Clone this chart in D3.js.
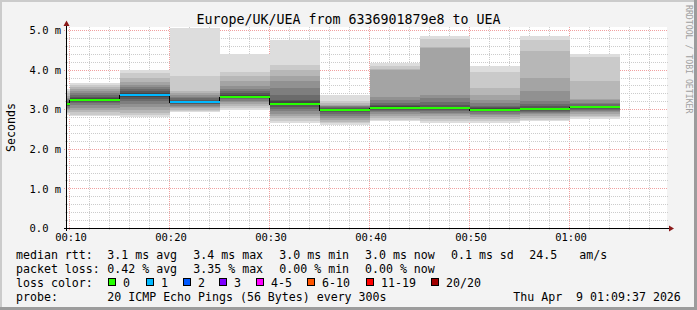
<!DOCTYPE html>
<html><head><meta charset="utf-8">
<script src="https://cdn.jsdelivr.net/npm/d3@7"></script>
<style>
body{margin:0;background:#f3f3f3}
svg{display:block}
text{font-family:"DejaVu Sans Mono",monospace;white-space:pre}
</style>
</head><body>
<svg id="c" width="697" height="310"></svg>
<script>
// ---------- data ----------
const segmentStarts = ["00:05","00:10","00:15","00:20","00:25","00:30","00:35","00:40","00:45","00:50","00:55","01:00"];
const segmentEnd = "01:05";
const medianRtt = [3.12, 3.24, 3.37, 3.17, 3.32, 3.14, 2.99, 3.03, 3.02, 2.99, 3.00, 3.05];
const lostPings = [0, 0, 1, 1, 0, 0, 0, 0, 0, 0, 0, 0];
const pings = [
  [2.85,2.90,2.94,2.98,3.01,3.04,3.07,3.09,3.11,3.12,3.13,3.15,3.18,3.21,3.25,3.29,3.34,3.40,3.46,3.52],
  [2.82,2.86,2.92,2.98,3.04,3.10,3.15,3.19,3.22,3.24,3.26,3.29,3.32,3.36,3.40,3.45,3.51,3.56,3.62,3.66],
  [2.80,2.85,2.91,2.98,3.06,3.13,3.20,3.26,3.31,3.35,3.39,3.42,3.45,3.50,3.56,3.62,3.68,3.79,3.91,3.98],
  [2.92,2.95,2.98,3.02,3.06,3.09,3.12,3.14,3.16,3.17,3.19,3.21,3.24,3.28,3.32,3.36,3.40,3.45,3.83,5.05],
  [2.99,3.03,3.07,3.12,3.17,3.21,3.25,3.28,3.30,3.31,3.33,3.36,3.40,3.45,3.51,3.58,3.70,3.83,3.95,4.40],
  [2.66,2.71,2.77,2.83,2.89,2.95,3.01,3.06,3.10,3.13,3.16,3.20,3.24,3.37,3.53,3.70,3.83,4.00,4.12,4.74],
  [2.60,2.64,2.68,2.72,2.77,2.82,2.87,2.92,2.95,2.98,3.00,3.01,3.03,3.05,3.07,3.09,3.11,3.15,3.20,3.37],
  [2.69,2.74,2.79,2.84,2.89,2.93,2.96,2.99,3.01,3.02,3.04,3.07,3.11,3.16,3.24,3.30,4.00,4.02,4.10,4.17],
  [2.64,2.70,2.76,2.82,2.87,2.91,2.95,2.98,3.00,3.01,3.03,3.06,3.11,3.18,3.28,3.35,4.55,4.56,4.77,4.86],
  [2.66,2.71,2.76,2.81,2.85,2.89,2.92,2.95,2.97,2.98,3.00,3.02,3.05,3.09,3.15,3.24,3.37,3.53,3.93,4.10],
  [2.69,2.74,2.79,2.84,2.88,2.91,2.94,2.96,2.98,2.99,3.01,3.03,3.07,3.12,3.20,3.45,3.79,4.46,4.75,4.84],
  [2.75,2.80,2.84,2.88,2.92,2.95,2.98,3.00,3.02,3.04,3.06,3.07,3.09,3.12,3.16,3.24,3.26,3.70,4.32,4.40]
];
const timeTicks = ["00:10","00:20","00:30","00:40","00:50","01:00"];
const valueTicks = [0, 1, 2, 3, 4, 5];
const valueTickLabels = ["0.0", "1.0 m", "2.0 m", "3.0 m", "4.0 m", "5.0 m"];
const lossLabels = ["0","1","2","3","4-5","6-10","11-19","20/20"];
const lossColors = ["#26ff00","#00b8ff","#0059ff","#7e00ff","#ff00ff","#ff5500","#ff0000","#a10000"];
const rttStats = ["3.1 ms avg","3.4 ms max","3.0 ms min","3.0 ms now","0.1 ms sd","24.5","am/s"];
const lossStats = ["0.42 % avg","3.35 % max","0.00 % min","0.00 % now"];
const titleText = "Europe/UK/UEA from 6336901879e8 to UEA";
const probeText = "20 ICMP Echo Pings (56 Bytes) every 300s";
const dateText = "Thu Apr  9 01:09:37 2026";

// ---------- helpers ----------
const toSec = s => { const [h, m] = s.split(":").map(Number); return h * 3600 + m * 60; };
const W = 697, H = 310;
const svg = d3.select("#c");

const x = d3.scaleLinear().domain([582, 582 + 3600]).range([67, 667]);
const y = d3.scaleLinear().domain([0, 5.076]).range([228, 27]);

// background + frame
svg.append("rect").attr("width", W).attr("height", H).attr("fill", "#f3f3f3");
svg.append("rect").attr("x", 67).attr("y", 27).attr("width", 600).attr("height", 201).attr("fill", "#ffffff");
svg.append("rect").attr("x", 0).attr("y", 0).attr("width", W).attr("height", 2).attr("fill", "#cbcbcb");
svg.append("rect").attr("x", 0).attr("y", 0).attr("width", 2).attr("height", H).attr("fill", "#cbcbcb");
svg.append("rect").attr("x", W - 3).attr("y", 0).attr("width", 3).attr("height", H).attr("fill", "#9c9c9c");
svg.append("rect").attr("x", 0).attr("y", H - 3).attr("width", W).attr("height", 3).attr("fill", "#9c9c9c");

// ---------- grid ----------
const grid = svg.append("g").attr("shape-rendering", "crispEdges");
const minorT = d3.range(toSec("00:10"), 582 + 3600, 120);
const minorV = d3.range(1, 26).map(k => k * 0.2);
const px = v => Math.round(v) - 0.5;
minorT.forEach(t => {
  const major = (t % 600) === 0;
  grid.append("line").attr("x1", px(x(t))).attr("x2", px(x(t))).attr("y1", 27).attr("y2", major ? 231 : 230)
    .attr("stroke", major ? "#f0a0a0" : "#cccccc").attr("stroke-dasharray", "1,1");
});
minorV.forEach(v => {
  const major = Math.abs(v - Math.round(v)) < 1e-6;
  const yy = Math.round(y(v)) + 0.5;
  grid.append("line").attr("x1", major ? 64 : 65).attr("x2", 668).attr("y1", yy).attr("y2", yy)
    .attr("stroke", major ? "#f0a0a0" : "#cccccc").attr("stroke-dasharray", "1,1");
});

// ---------- smoke ----------
const plot = svg.append("g").attr("clip-path", "url(#clip)").attr("shape-rendering", "crispEdges");
svg.append("clipPath").attr("id", "clip").append("rect").attr("x", 67).attr("y", 27).attr("width", 600).attr("height", 201);
const shade = i => { const c = Math.floor(190 / 10 * (10 - i)) + 50; return d3.rgb(c, c, c).formatHex(); };
segmentStarts.forEach((s, k) => {
  const t0 = toSec(s), t1 = k + 1 < segmentStarts.length ? toSec(segmentStarts[k + 1]) : toSec(segmentEnd);
  const p = pings[k];
  for (let i = 1; i <= 10; i++) {
    const lo = p[i - 1], hi = p[20 - i];
    plot.append("rect")
      .attr("x", Math.round(x(t0))).attr("width", Math.round(x(t1)) - Math.round(x(t0)))
      .attr("y", Math.round(y(hi))).attr("height", Math.max(1, Math.round(y(lo)) - Math.round(y(hi))))
      .attr("fill", shade(i));
  }
});

// median step line (black) + loss colored bands
const medPts = segmentStarts.map((s, k) => [toSec(s), medianRtt[k]]);
medPts.push([toSec(segmentEnd), medianRtt[medianRtt.length - 1]]);
plot.append("path")
  .attr("d", d3.line().curve(d3.curveStepAfter).x(d => Math.round(x(d[0])) - 0.5).y(d => Math.round(y(d[1])) + 0.5)(medPts))
  .attr("fill", "none").attr("stroke", "#000").attr("stroke-width", 1);
segmentStarts.forEach((s, k) => {
  const t0 = toSec(s), t1 = k + 1 < segmentStarts.length ? toSec(segmentStarts[k + 1]) : toSec(segmentEnd);
  plot.append("rect")
    .attr("x", Math.round(x(t0))).attr("width", Math.round(x(t1)) - Math.round(x(t0)))
    .attr("y", Math.round(y(medianRtt[k])) - 1).attr("height", 2)
    .attr("fill", lossColors[lostPings[k]]);
});

// ---------- axes ----------
const ax = svg.append("g").attr("shape-rendering", "crispEdges");
ax.append("line").attr("x1", 64).attr("x2", 669).attr("y1", 228.5).attr("y2", 228.5).attr("stroke", "#000");
ax.append("line").attr("x1", 66.5).attr("x2", 66.5).attr("y1", 231).attr("y2", 25).attr("stroke", "#000");
svg.append("path").attr("d", "M669,225.5L674,228.5L669,231.5Z").attr("fill", "#8b1a1a");
svg.append("path").attr("d", "M63.5,26L66.5,20.5L69.5,26Z").attr("fill", "#8b1a1a");

const xAxis = d3.axisBottom(x).tickValues(timeTicks.map(toSec)).tickFormat((d, i) => timeTicks[i]).tickSize(0).tickPadding(0);
const gx = svg.append("g").attr("transform", "translate(0,241)").call(xAxis);
gx.select(".domain").remove();
gx.selectAll("text").attr("dy", 0).attr("y", 0).attr("font-size", "10.5px").attr("fill", "#000")
  .attr("font-family", "DejaVu Sans Mono").attr("transform", "translate(0.5,0)");

const yAxis = d3.axisLeft(y).tickValues(valueTicks).tickFormat((d, i) => valueTickLabels[i]).tickSize(0).tickPadding(0);
const gy = svg.append("g").attr("transform", "translate(29.5,0)").call(yAxis);
gy.select(".domain").remove();
gy.selectAll("text").attr("text-anchor", "start").attr("x", 0).attr("dy", "0.36em")
  .attr("font-size", "10.5px").attr("fill", "#000").attr("font-family", "DejaVu Sans Mono");

// ---------- texts ----------
svg.append("text").attr("x", 348.5).attr("y", 23.5).attr("text-anchor", "middle").attr("font-size", "13.3px").text(titleText);
svg.append("text").attr("transform", "translate(15,127.5) rotate(-90)").attr("text-anchor", "middle").attr("font-size", "11.6px").text("Seconds");
svg.append("text").attr("transform", "translate(685.5,5) rotate(90)").attr("text-anchor", "start").attr("font-size", "8.2px").attr("fill", "#a0a0a0").text("RRDTOOL / TOBI OETIKER");

const lg = svg.append("g").attr("font-size", "11.6px").attr("fill", "#000");
const cols = [107.3, 193.3, 279.3, 365, 451, 529.3, 579.3];
const rows = [258.5, 272.5, 286.5, 300.5];
lg.append("text").attr("x", 16).attr("y", rows[0]).text("median rtt:");
rttStats.forEach((t, i) => lg.append("text").attr("x", cols[i]).attr("y", rows[0]).text(t));
lg.append("text").attr("x", 16).attr("y", rows[1]).text("packet loss:");
lossStats.forEach((t, i) => lg.append("text").attr("x", cols[i]).attr("y", rows[1]).text(t));
lg.append("text").attr("x", 16).attr("y", rows[2]).text("loss color:");
const boxX = [108.3, 145.7, 182.7, 219.3, 256, 307.3, 365.7, 430.7];
lossLabels.forEach((l, i) => {
  lg.append("rect").attr("x", Math.round(boxX[i]) + 0.5).attr("y", 278.5).attr("width", 7).attr("height", 7)
    .attr("fill", lossColors[i]).attr("stroke", "#000").attr("shape-rendering", "crispEdges");
  lg.append("text").attr("x", Math.round(boxX[i]) + 15).attr("y", rows[2]).text(l);
});
lg.append("text").attr("x", 16).attr("y", rows[3]).text("probe:");
lg.append("text").attr("x", cols[0]).attr("y", rows[3]).text(probeText);
lg.append("text").attr("x", 513.3).attr("y", rows[3]).text(dateText);
</script>
</body></html>
